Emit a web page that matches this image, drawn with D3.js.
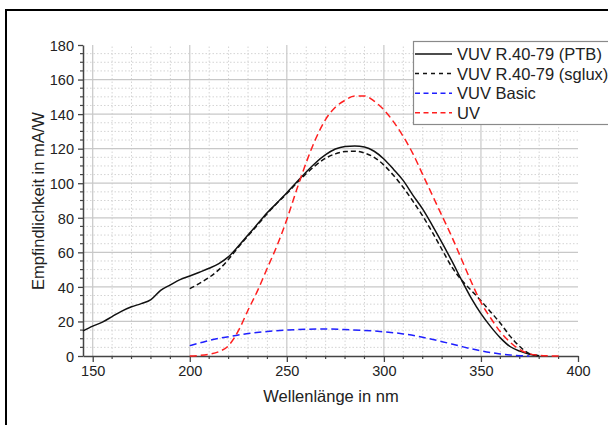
<!DOCTYPE html>
<html>
<head>
<meta charset="utf-8">
<script src="https://cdn.jsdelivr.net/npm/d3@7"></script>
<style>
  body { margin: 0; background: #fff; }
  svg { display: block; font-family: "Liberation Sans", Arial, sans-serif; }
  .axis path, .axis line { stroke: #444; }
  .axis text { fill: #222; font-size: 14.5px; font-family: "Liberation Sans", Arial, sans-serif; }
</style>
</head>
<body>
<div id="chart"></div>
<script>
// data (wavelength in nm, sensitivity in mA/W)
var ptbNm = [145, 150, 155, 160, 165, 170, 175, 180, 185, 190, 195, 200, 205, 210, 215, 220, 225, 230, 235, 240,
  245, 250, 255, 260, 265, 270, 275, 280, 285, 290, 295, 300, 305, 310, 315, 320, 325, 330, 335, 340,
  345, 350, 355, 360, 365, 370, 375, 380];
var ptbVal = [14.5, 17.3, 19.6, 22.8, 26, 28.5, 30.3, 32.6, 38, 41.2, 44.2, 46.3, 48.5, 50.8, 53.5, 57.5, 63.5, 70, 76.5, 83,
  88.7, 94.5, 100.5, 106.5, 112, 116.5, 119.8, 121.3, 121.6, 121, 118.5, 114, 108, 101.5, 93, 85, 75.5, 65.5, 55, 44,
  33.5, 24.5, 17, 10.5, 5.5, 2.8, 1, 0.2];

var sgluxNm = [200, 205, 210, 215, 220, 225, 230, 235, 240, 245, 250, 255, 260, 265, 270, 275, 280, 285, 290, 295,
  300, 305, 310, 315, 320, 325, 330, 335, 340, 345, 350, 355, 360, 365, 370, 375, 380];
var sgluxVal = [39, 42, 45.5, 50, 56, 63, 69.5, 76, 82.5, 88.5, 94, 100, 105.5, 110.5, 114.5, 117, 118.3, 118.5, 117.5, 115,
  110.5, 104.5, 97.5, 89.5, 81, 71.5, 61.5, 51.5, 44, 38, 32, 25.5, 19, 11.5, 5.5, 1.3, 0.2];

var basicNm = [200, 205, 210, 215, 220, 225, 230, 240, 250, 260, 270, 280, 290, 300, 310, 320, 330, 340, 350, 360, 365, 370, 375];
var basicVal = [6, 7.5, 9, 10.2, 11.2, 12.2, 13, 14.2, 15, 15.5, 15.6, 15.3, 14.8, 14, 12.8, 10.8, 8.3, 5.5, 3, 1.2, 0.6, 0.2, 0];

var uvNm = [200, 205, 210, 215, 220, 225, 230, 235, 240, 245, 250, 255, 260, 265, 270, 275, 280, 285, 290, 295,
  300, 305, 310, 315, 320, 325, 330, 335, 340, 345, 350, 355, 360, 365, 370, 375, 380, 385, 390];
var uvVal = [0, 0.3, 1, 2.5, 6, 14.5, 26.5, 38, 51, 64, 79, 96, 112, 126, 137, 144, 148, 150.5, 150.5, 147.5,
  142.5, 135.5, 127, 117, 105, 93, 81, 69, 56, 43, 31, 22, 14, 8, 3.7, 1.3, 0.4, 0.1, 0];

var seriesNames = ["VUV R.40-79 (PTB)", "VUV R.40-79 (sglux)", "VUV Basic", "UV"];
var xTicks = [150, 200, 250, 300, 350, 400];
var yTicks = [0, 20, 40, 60, 80, 100, 120, 140, 160, 180];

var svgWidth = 608;
var svgHeight = 425;

var svg = d3.select("#chart")
  .append("svg")
  .attr("width", svgWidth)
  .attr("height", svgHeight);

// outer frame
svg.append("rect")
  .attr("x", 6).attr("y", 10)
  .attr("width", 660).attr("height", 460)
  .attr("fill", "none")
  .attr("stroke", "#000")
  .attr("stroke-width", 2);

var xScale = d3.scaleLinear().domain([145, 400]).range([83, 578]);
var yScale = d3.scaleLinear().domain([0, 180]).range([356, 45]);

// minor grid, every 10 nm and every 5 mA/W
var xMinor = d3.range(150, 400, 10).filter(function(v) { return v % 50 != 0; });
var yMinor = d3.range(5, 180, 5).filter(function(v) { return v % 20 != 0; });

var grid = svg.append("g");

grid.selectAll("line.xminor")
  .data(xMinor)
  .enter()
  .append("line")
  .attr("x1", function(d) { return xScale(d); })
  .attr("x2", function(d) { return xScale(d); })
  .attr("y1", yScale(0))
  .attr("y2", yScale(180))
  .attr("stroke", "#d4d4d4")
  .attr("stroke-dasharray", "1.5,2");

grid.selectAll("line.yminor")
  .data(yMinor)
  .enter()
  .append("line")
  .attr("x1", xScale(145))
  .attr("x2", xScale(400))
  .attr("y1", function(d) { return yScale(d); })
  .attr("y2", function(d) { return yScale(d); })
  .attr("stroke", "#d4d4d4")
  .attr("stroke-dasharray", "1.5,2");

grid.selectAll("line.xmajor")
  .data(xTicks.slice(0, -1))
  .enter()
  .append("line")
  .attr("x1", function(d) { return xScale(d); })
  .attr("x2", function(d) { return xScale(d); })
  .attr("y1", yScale(0))
  .attr("y2", yScale(180))
  .attr("stroke", "#c8c8c8")
  .attr("stroke-width", 1.2);

grid.selectAll("line.ymajor")
  .data(yTicks.slice(1, -1))
  .enter()
  .append("line")
  .attr("x1", xScale(145))
  .attr("x2", xScale(400))
  .attr("y1", function(d) { return yScale(d); })
  .attr("y2", function(d) { return yScale(d); })
  .attr("stroke", "#c8c8c8")
  .attr("stroke-width", 1.2);

// axes
var bottomAxis = d3.axisBottom(xScale).tickValues(xTicks).tickSize(6).tickSizeOuter(0).tickPadding(4);
var leftAxis = d3.axisLeft(yScale).tickValues(yTicks).tickSize(5).tickSizeOuter(0).tickPadding(4);

var xAxisG = svg.append("g")
  .attr("class", "axis")
  .attr("transform", "translate(0," + yScale(0) + ")")
  .call(bottomAxis);
xAxisG.select(".domain").attr("stroke-width", 1.5);
xAxisG.selectAll(".tick line").attr("stroke-width", 1.3);

var yAxisG = svg.append("g")
  .attr("class", "axis")
  .attr("transform", "translate(" + xScale(145) + ",0)")
  .call(leftAxis);
yAxisG.select(".domain").attr("stroke-width", 1.5);
yAxisG.selectAll(".tick line").attr("stroke-width", 1.3);
yAxisG.selectAll(".tick text").attr("dy", "0.36em");

// minor ticks
svg.append("g").selectAll("line")
  .data(xMinor)
  .enter()
  .append("line")
  .attr("x1", function(d) { return xScale(d); })
  .attr("x2", function(d) { return xScale(d); })
  .attr("y1", yScale(0))
  .attr("y2", yScale(0) + 3)
  .attr("stroke", "#444")
  .attr("stroke-width", 1.2);

svg.append("g").selectAll("line")
  .data(yMinor)
  .enter()
  .append("line")
  .attr("x1", xScale(145) - 3)
  .attr("x2", xScale(145))
  .attr("y1", function(d) { return yScale(d); })
  .attr("y2", function(d) { return yScale(d); })
  .attr("stroke", "#444")
  .attr("stroke-width", 1.2);

// curves
var line = d3.line()
  .x(function(d) { return xScale(d[0]); })
  .y(function(d) { return yScale(d[1]); })
  .curve(d3.curveMonotoneX);

var series = [
  { nm: ptbNm, val: ptbVal, color: "#111", dash: null, legendDash: null },
  { nm: sgluxNm, val: sgluxVal, color: "#111", dash: "5,3", legendDash: "4,4" },
  { nm: basicNm, val: basicVal, color: "#1f1fff", dash: "7,4", legendDash: "5,3.5" },
  { nm: uvNm, val: uvVal, color: "#ff1f1f", dash: "7,4", legendDash: "5,3.5" }
];

var plot = svg.append("g");
series.forEach(function(s) {
  var pts = s.nm.map(function(v, i) { return [v, s.val[i]]; });
  plot.append("path")
    .datum(pts)
    .attr("d", line)
    .attr("fill", "none")
    .attr("stroke", s.color)
    .attr("stroke-width", 1.5)
    .attr("stroke-dasharray", s.dash);
});

// axis titles
svg.append("text")
  .attr("x", 331)
  .attr("y", 402)
  .attr("text-anchor", "middle")
  .style("font-size", "16.5px")
  .style("fill", "#222")
  .text("Wellenlänge in nm");

svg.append("text")
  .attr("transform", "translate(44,201) rotate(-90)")
  .attr("text-anchor", "middle")
  .style("font-size", "16.5px")
  .style("fill", "#222")
  .text("Empfindlichkeit in mA/W");

// legend
var legend = svg.append("g");
legend.append("rect")
  .attr("x", 413.5).attr("y", 41.5)
  .attr("width", 220).attr("height", 83)
  .attr("fill", "#fff")
  .attr("stroke", "#8a8a8a")
  .attr("stroke-width", 1.2);

series.forEach(function(s, i) {
  var ly = 54 + i * 19.6;
  legend.append("line")
    .attr("x1", 415).attr("x2", 452)
    .attr("y1", ly).attr("y2", ly)
    .attr("stroke", s.color)
    .attr("stroke-width", 1.5)
    .attr("stroke-dasharray", s.legendDash);
  legend.append("text")
    .attr("x", 457)
    .attr("y", ly + 6)
    .style("font-size", "16.5px")
    .style("fill", "#222")
    .text(seriesNames[i]);
});
</script>
</body>
</html>
